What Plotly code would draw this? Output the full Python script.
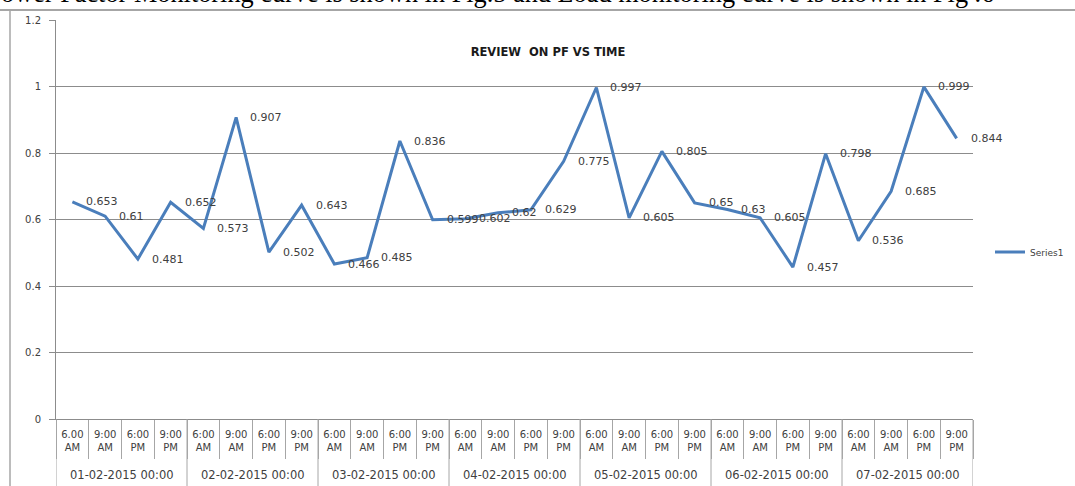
import plotly.graph_objects as go

days = ["01-02-2015 00:00", "02-02-2015 00:00", "03-02-2015 00:00", "04-02-2015 00:00",
        "05-02-2015 00:00", "06-02-2015 00:00", "07-02-2015 00:00"]
time_labels = ["6.00<br>AM", "9:00<br>AM", "6:00<br>PM", "9:00<br>PM"] + \
              ["6:00<br>AM", "9:00<br>AM", "6:00<br>PM", "9:00<br>PM"] * 6
pf = [0.653, 0.61, 0.481, 0.652, 0.573, 0.907, 0.502, 0.643, 0.466, 0.485,
      0.836, 0.599, 0.602, 0.62, 0.629, 0.775, 0.997, 0.605, 0.805, 0.65,
      0.63, 0.605, 0.457, 0.798, 0.536, 0.685, 0.999, 0.844]
y_ticks = [0, 0.2, 0.4, 0.6, 0.8, 1, 1.2]

n = len(pf)
per_day = n // len(days)
xi = list(range(n))

W, H = 1075, 486
L, R, T, B = 56, 102, 20, 67
pw, ph = W - L - R, H - T - B


def py(pix):  # pixel row -> paper y
    return (H - B - pix) / ph


def px(pix):  # pixel column -> paper x
    return (pix - L) / pw


AX = "#a6a6a6"

fig = go.Figure()
fig.add_trace(go.Scatter(
    x=xi, y=pf, mode="lines", name="Series1",
    line=dict(color="#4a7ebb", width=3),
))

for i, v in enumerate(pf):
    fig.add_annotation(x=i, y=v, xref="x", yref="y", text=str(v), showarrow=False,
                       xanchor="left", yanchor="middle", xshift=12,
                       font=dict(family="DejaVu Sans", size=11, color="#404040"))

# day group labels and dividers
for d, day in enumerate(days):
    fig.add_annotation(x=d * per_day + (per_day - 1) / 2, y=py(475), xref="x", yref="paper",
                       text=day, showarrow=False, xanchor="center", yanchor="middle",
                       font=dict(family="DejaVu Sans", size=11.5, color="#404040"))
for d in range(len(days) + 1):
    xb = d * per_day - 0.5
    fig.add_shape(type="line", xref="x", yref="paper", x0=xb, x1=xb, y0=py(419), y1=py(490),
                  line=dict(color=AX, width=1))

# header text of page (cut off at top)
fig.add_annotation(xref="paper", yref="paper", x=px(-1), y=py(-6),
                   xanchor="left", yanchor="middle", showarrow=False,
                   text="ower Factor Monitoring curve is shown in Fig.5 and Load monitoring curve is shown in Fig .6",
                   font=dict(family="Liberation Serif", size=26.3, color="#000000"))

# chart frame lines
fig.add_shape(type="line", xref="paper", yref="paper", x0=px(0), x1=px(W),
              y0=py(10), y1=py(10), line=dict(color=AX, width=2))
fig.add_shape(type="line", xref="paper", yref="paper", x0=px(10), x1=px(10),
              y0=py(10), y1=py(490), line=dict(color=AX, width=1.5))

fig.update_layout(
    width=W, height=H,
    margin=dict(l=L, r=R, t=T, b=B, autoexpand=False),
    paper_bgcolor="white", plot_bgcolor="white",
    title=dict(text="<b>REVIEW  ON PF VS TIME</b>", x=548 / W, xanchor="center",
               y=1 - 52 / H, yanchor="middle",
               font=dict(family="DejaVu Sans", size=11.5, color="#1a1a1a")),
    showlegend=True,
    legend=dict(x=px(990), xanchor="left", y=py(252), yanchor="middle",
                font=dict(family="DejaVu Sans", size=9, color="#404040"),
                itemwidth=30, bgcolor="rgba(0,0,0,0)"),
)

fig.update_yaxes(range=[0, 1.2], tickvals=y_ticks, showgrid=True, gridcolor="#8c8c8c",
                 gridwidth=1, showline=True, linecolor="#8c8c8c", linewidth=1,
                 ticks="outside", ticklen=6, tickcolor="#8c8c8c", zeroline=False,
                 tickfont=dict(family="DejaVu Sans", size=10, color="#404040"),
                 ticklabelstandoff=6, automargin=False)
fig.update_xaxes(range=[-0.5, n - 0.5], showline=True, linecolor="#8c8c8c", linewidth=1,
                 tickvals=xi, ticktext=time_labels, ticks="",
                 minor=dict(tickvals=[i - 0.5 for i in range(n + 1)], ticks="outside",
                            ticklen=39, tickcolor=AX, tickwidth=1, showgrid=False),
                 tickfont=dict(family="DejaVu Sans", size=10, color="#404040"),
                 ticklabelstandoff=6, showgrid=False, zeroline=False, automargin=False)

fig.write_html("out.html")
